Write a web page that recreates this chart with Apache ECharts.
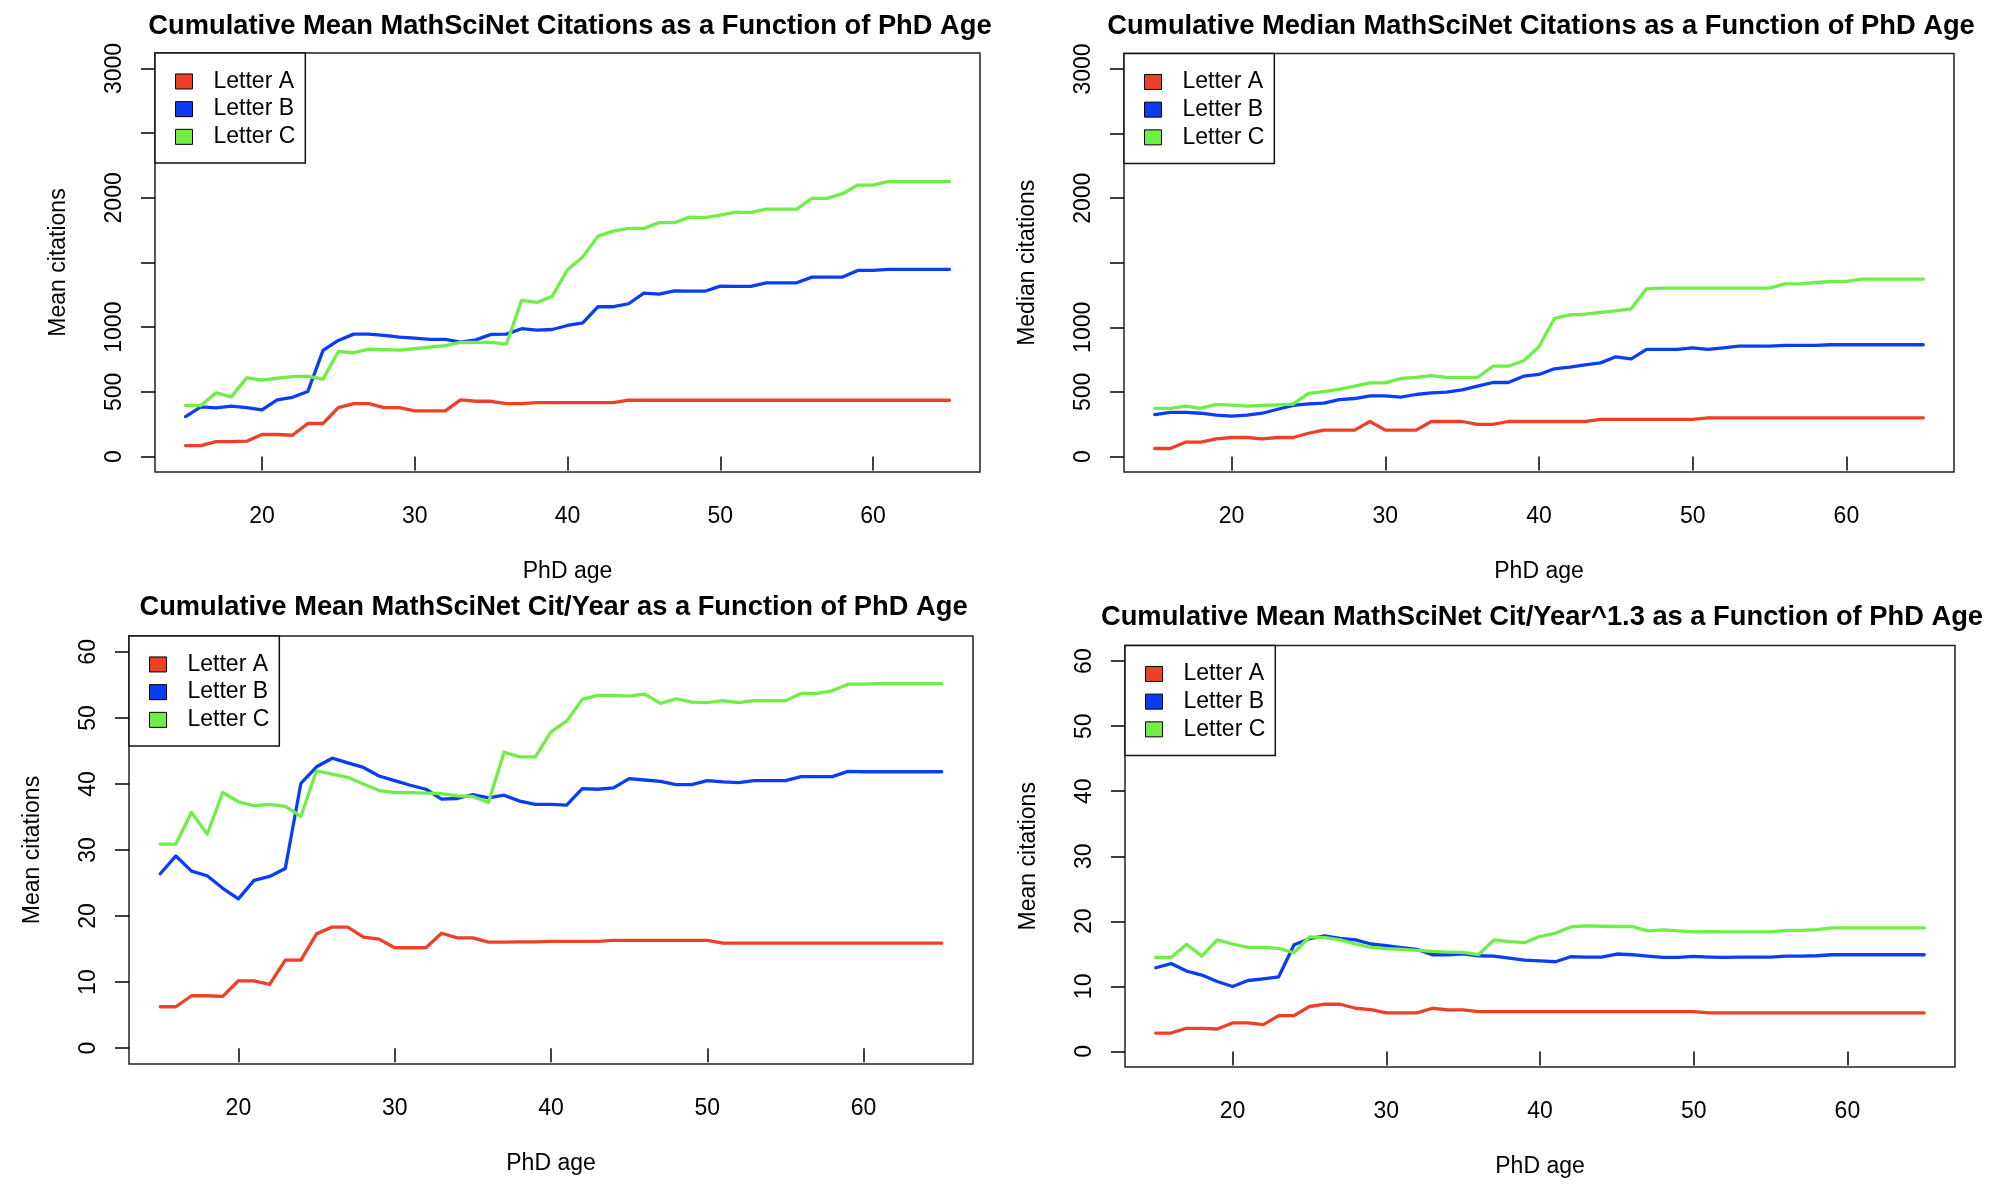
<!DOCTYPE html>
<html>
<head>
<meta charset="utf-8">
<script src="https://cdn.jsdelivr.net/npm/echarts/dist/echarts.min.js"></script>
<style>
html,body{margin:0;padding:0;background:#ffffff;}
#chart{width:2012px;height:1192px;}
</style>
</head>
<body>
<div id="chart"></div>
<script>
// ---------------- DATA ----------------
const ages = [15,16,17,18,19,20,21,22,23,24,25,26,27,28,29,30,31,32,33,34,35,36,37,38,39,40,
              41,42,43,44,45,46,47,48,49,50,51,52,53,54,55,56,57,58,59,60,61,62,63,64,65];
const xTickValues = [20,30,40,50,60];
const citTickValues = [0,500,1000,1500,2000,2500,3000];
const citTickLabels = [0,500,1000,2000,3000];
const rateTickValues = [0,10,20,30,40,50,60];
const seriesNames = ['Letter A','Letter B','Letter C'];
const titles = [
  'Cumulative Mean MathSciNet Citations as a Function of PhD Age',
  'Cumulative Median MathSciNet Citations as a Function of PhD Age',
  'Cumulative Mean MathSciNet Cit/Year as a Function of PhD Age',
  'Cumulative Mean MathSciNet Cit/Year^1.3 as a Function of PhD Age'
];
const yAxisTitles = ['Mean citations','Median citations','Mean citations','Mean citations'];
const xAxisTitle = 'PhD age';

// Panel 1: cumulative mean citations
const meanCitA = [84,84,115,115,118,170,170,164,255,255,378,409,409,378,378,353,353,353,438,427,427,409,409,417,417,417,
                  417,417,417,435,435,435,435,435,435,435,435,435,435,435,435,435,435,435,435,435,435,435,435,435,435];
const meanCitB = [309,384,376,389,378,360,438,458,502,820,897,946,946,936,923,915,905,905,884,902,944,946,988,977,982,1013,
                  1034,1158,1158,1181,1263,1255,1281,1278,1278,1317,1315,1315,1343,1343,1343,1387,1387,1387,1439,1439,1447,1447,1447,1447,1447];
const meanCitC = [394,394,492,461,608,590,605,618,621,598,812,802,830,826,822,833,845,858,882,882,882,868,1207,1191,1238,1444,
                  1542,1704,1743,1764,1764,1808,1808,1851,1847,1867,1890,1885,1913,1913,1913,1996,1996,2032,2099,2099,2125,2125,2125,2125,2125];

// Panel 2: cumulative median citations
const medCitA = [62,62,111,111,136,147,147,136,147,147,180,204,204,204,271,204,204,204,271,271,271,248,248,271,271,271,
                 271,271,271,287,287,287,287,287,287,287,299,299,299,299,299,299,299,299,299,299,299,299,299,299,299];
const medCitB = [325,341,341,335,320,312,320,335,366,395,408,413,441,449,470,470,459,480,493,498,516,545,573,573,622,635,
                 679,692,710,725,772,756,829,829,829,841,829,841,854,854,854,860,860,860,865,865,865,865,865,865,865];
const medCitC = [372,372,390,372,403,397,390,395,400,405,488,503,519,545,570,570,604,612,627,612,612,612,699,699,741,850,
                 1069,1097,1102,1115,1128,1143,1298,1304,1304,1304,1304,1304,1304,1304,1304,1337,1339,1347,1355,1355,1373,1373,1373,1373,1373];

// Panel 3: cumulative mean citations per year
const perYearA = [6.27,6.27,7.93,7.93,7.83,10.2,10.2,9.65,13.33,13.33,17.3,18.33,18.33,16.8,16.5,15.2,15.2,15.2,17.4,16.7,16.7,16.06,16.06,16.1,16.1,16.16,
                  16.16,16.16,16.16,16.31,16.31,16.31,16.31,16.31,16.31,16.31,15.9,15.9,15.9,15.9,15.9,15.9,15.9,15.9,15.9,15.9,15.9,15.9,15.9,15.9,15.9];
const perYearB = [26.4,29.1,26.8,26.1,24.2,22.6,25.4,26.0,27.2,40.1,42.6,43.9,43.2,42.5,41.2,40.5,39.8,39.2,37.7,37.8,38.4,37.9,38.3,37.4,36.9,36.9,
                  36.8,39.3,39.2,39.4,40.8,40.6,40.4,39.9,39.9,40.5,40.3,40.2,40.5,40.5,40.5,41.1,41.1,41.1,41.9,41.85,41.85,41.85,41.85,41.85,41.85];
const perYearC = [30.9,30.9,35.7,32.4,38.7,37.3,36.7,36.9,36.6,35.1,42.0,41.5,41.0,40.0,39.0,38.7,38.7,38.6,38.55,38.2,38.1,37.2,44.8,44.1,44.1,47.9,
                  49.5,52.8,53.4,53.4,53.3,53.6,52.2,52.9,52.4,52.3,52.6,52.3,52.6,52.6,52.6,53.7,53.7,54.1,55.1,55.1,55.2,55.2,55.2,55.2,55.2];

// Panel 4: cumulative mean citations per year^1.3
const perYear13A = [2.82,2.82,3.55,3.55,3.44,4.37,4.37,4.11,5.5,5.5,6.9,7.25,7.25,6.63,6.43,5.91,5.91,5.91,6.63,6.37,6.37,6.1,6.1,6.1,6.1,6.1,
                    6.1,6.1,6.1,6.1,6.1,6.1,6.1,6.1,6.1,6.1,5.93,5.93,5.93,5.93,5.93,5.93,5.93,5.93,5.93,5.93,5.93,5.93,5.93,5.93,5.93];
const perYear13B = [12.86,13.5,12.35,11.73,10.74,9.97,10.9,11.16,11.47,16.4,17.33,17.75,17.38,17.13,16.51,16.25,15.94,15.68,14.86,14.86,15.0,14.7,14.65,14.35,14.04,13.9,
                    13.78,14.55,14.5,14.5,14.97,14.86,14.65,14.45,14.45,14.6,14.5,14.45,14.5,14.5,14.5,14.65,14.65,14.7,14.86,14.86,14.86,14.86,14.86,14.86,14.86];
const perYear13C = [14.45,14.45,16.45,14.66,17.13,16.51,15.99,16.0,15.84,15.17,17.59,17.5,17.13,16.51,15.99,15.79,15.68,15.53,15.37,15.27,15.22,14.86,17.13,16.87,16.71,17.7,
                    18.15,19.13,19.29,19.24,19.2,19.2,18.52,18.67,18.52,18.36,18.41,18.36,18.36,18.36,18.36,18.6,18.6,18.72,18.98,18.98,18.98,18.98,18.98,18.98,18.98];

// ---------------- LAYOUT / STYLE ----------------
const colors = ['#EE4027','#0A3EF6','#6FEF46'];
const FONT = 'Liberation Sans, Arial, Helvetica, sans-serif';
const panels = [
  {grid:{left:155, top:53, width:825, height:419}, titleX:570, titleTop:12,
   yMin:-120, yMax:3120, yTicks:citTickValues, yLabels:citTickLabels, data:[meanCitA, meanCitB, meanCitC]},
  {grid:{left:1124, top:53.5, width:830, height:418.5}, titleX:1541, titleTop:12,
   yMin:-120, yMax:3120, yTicks:citTickValues, yLabels:citTickLabels, data:[medCitA, medCitB, medCitC]},
  {grid:{left:129, top:636, width:844, height:428}, titleX:553.5, titleTop:593.5,
   yMin:-2.4, yMax:62.4, yTicks:rateTickValues, yLabels:rateTickValues, data:[perYearA, perYearB, perYearC]},
  {grid:{left:1125, top:645.5, width:830, height:421.5}, titleX:1542, titleTop:603,
   yMin:-2.4, yMax:62.4, yTicks:rateTickValues, yLabels:rateTickValues, data:[perYear13A, perYear13B, perYear13C]}
];

const tickStyle = {color:'#000', width:1.5};
const plainNumber = v => String(v);
const option = {
  animation:false,
  backgroundColor:'#ffffff',
  title:[], grid:[], xAxis:[], yAxis:[], legend:[], series:[]
};

panels.forEach((p, i) => {
  option.title.push({
    text: titles[i], left: p.titleX, top: p.titleTop, textAlign:'center', padding:0,
    textStyle:{fontFamily:FONT, fontSize:27.3, fontWeight:'bold', color:'#000', lineHeight:28}
  });
  option.grid.push(Object.assign({show:true, borderColor:'#222', borderWidth:1.5, backgroundColor:'transparent'}, p.grid));
  option.xAxis.push({
    type:'value', gridIndex:i, min:13, max:67,
    axisLine:{show:false},
    axisTick:{show:true, inside:false, length:14, lineStyle:tickStyle, customValues:xTickValues},
    axisLabel:{show:true, margin:33.5, fontFamily:FONT, fontSize:23, lineHeight:23, color:'#000',
               customValues:xTickValues, formatter:plainNumber},
    splitLine:{show:false},
    name:xAxisTitle, nameLocation:'middle', nameGap:88.5,
    nameTextStyle:{fontFamily:FONT, fontSize:23, lineHeight:23, color:'#000'}
  });
  option.yAxis.push({
    type:'value', gridIndex:i, min:p.yMin, max:p.yMax,
    axisLine:{show:false},
    axisTick:{show:true, inside:false, length:14, lineStyle:tickStyle, customValues:p.yTicks},
    axisLabel:{show:true, rotate:90, margin:28.5, fontFamily:FONT, fontSize:23, lineHeight:23, color:'#000',
               customValues:p.yLabels, formatter:plainNumber},
    splitLine:{show:false},
    name:yAxisTitles[i], nameLocation:'middle', nameGap:84.5,
    nameTextStyle:{fontFamily:FONT, fontSize:23, lineHeight:23, color:'#000'}
  });
  option.legend.push({
    data: seriesNames, orient:'vertical', left:p.grid.left, top:p.grid.top,
    padding:[14.6, 10, 12.2, 20], itemGap:0, itemWidth:17, itemHeight:15, icon:'rect',
    borderColor:'#111', borderWidth:1.5, backgroundColor:'#fff', selectedMode:false,
    itemStyle:{borderColor:'#000', borderWidth:1},
    textStyle:{fontFamily:FONT, fontSize:23, lineHeight:27.7, color:'#000', padding:[0,0,0,16]}
  });
  p.data.forEach((vals, s) => {
    option.series.push({
      type:'line', name:seriesNames[s], xAxisIndex:i, yAxisIndex:i,
      data: ages.map((a, k) => [a, vals[k]]),
      showSymbol:false, symbol:'none', silent:true,
      color: colors[s],
      lineStyle:{color:colors[s], width:3.3, join:'round', cap:'round'},
      itemStyle:{color:colors[s]}
    });
  });
});

const chart = echarts.init(document.getElementById('chart'), null, {renderer:'canvas'});
chart.setOption(option);
</script>
</body>
</html>
